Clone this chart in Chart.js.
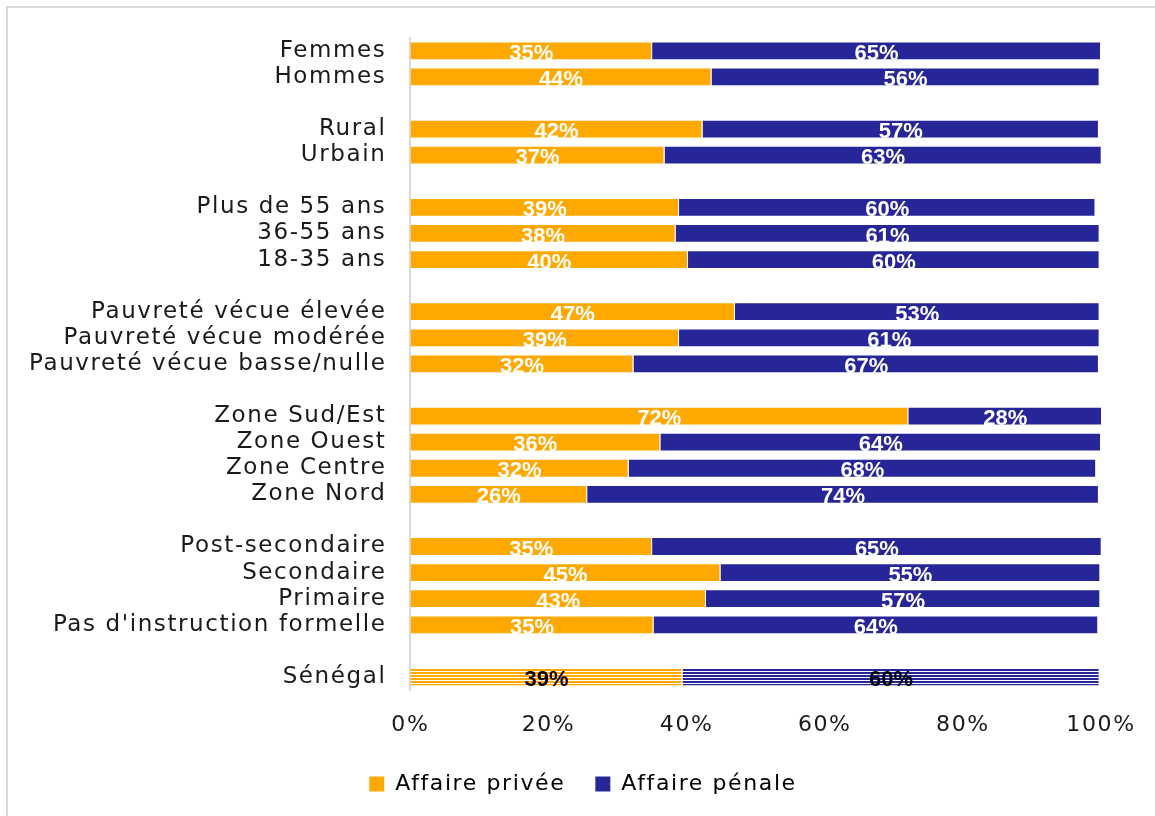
<!DOCTYPE html>
<html>
<head>
<meta charset="utf-8">
<script src="https://cdn.jsdelivr.net/npm/chart.js@4/dist/chart.umd.min.js"></script>
<style>
  body { margin: 0; background: #fff; overflow: hidden; }
  #frame { position: absolute; left: 6px; top: 6px; width: 1160px; height: 830px;
           border-left: 2px solid #d9d9d9; border-top: 2px solid #d9d9d9; }
  #wrap { position: absolute; left: 0; top: 0; width: 1155px; height: 816px; }
</style>
</head>
<body>
<div id="frame"></div>
<div id="wrap"><canvas id="myChart"></canvas></div>
<script>
// Stacked horizontal bars, blank categories used as group spacers
const categories = [
  "Femmes", "Hommes", "",
  "Rural", "Urbain", "",
  "Plus de 55 ans", "36-55 ans", "18-35 ans", "",
  "Pauvreté vécue élevée", "Pauvreté vécue modérée", "Pauvreté vécue basse/nulle", "",
  "Zone Sud/Est", "Zone Ouest", "Zone Centre", "Zone Nord", "",
  "Post-secondaire", "Secondaire", "Primaire", "Pas d'instruction formelle", "",
  "Sénégal",
];
const privee = [
  35.0, 43.6, null,
  42.3, 36.8, null,
  38.9, 38.4, 40.2, null,
  47.0, 38.9, 32.3, null,
  72.1, 36.2, 31.6, 25.6, null,
  35.0, 44.9, 42.8, 35.2, null,
  39.4,
];
const penale = [
  65.0, 56.2, null,
  57.4, 63.3, null,
  60.3, 61.4, 59.6, null,
  52.8, 60.9, 67.4, null,
  28.1, 63.8, 67.7, 74.1, null,
  65.1, 55.0, 57.1, 64.4, null,
  60.4,
];
const seriesNames = ["Affaire privée", "Affaire pénale"];
const xTicks = [0, 20, 40, 60, 80, 100];

const orange = "#FFA900";
const blue = "#262699";
const labelFont = "'DejaVu Sans', sans-serif";

// horizontal stripes for the national total
function stripes(color) {
  const c = document.createElement("canvas");
  c.width = 4; c.height = 3;
  const g = c.getContext("2d");
  g.fillStyle = "#ffffff";
  g.fillRect(0, 0, 4, 3);
  g.fillStyle = color;
  g.fillRect(0, 0, 4, 2);
  return g.createPattern(c, "repeat");
}
const last = categories.length - 1;
const fillFor = (color) => categories.map((c, i) => (i === last ? stripes(color) : color));

// letter spacing to get closer to the wide original font
const spacing = {
  id: "spacing",
  beforeLayout(chart) { chart.ctx.letterSpacing = "1.6px"; },
  afterLayout(chart) {
    // legend sits a bit right of the canvas centre in the original
    chart.legend.left += 30;
    chart.legend.right += 30;
  },
  beforeDraw(chart) { chart.ctx.letterSpacing = "1.6px"; },
};

const barLabels = {
  id: "barLabels",
  afterDatasetsDraw(chart) {
    const ctx = chart.ctx;
    ctx.save();
    ctx.letterSpacing = "0px";
    ctx.font = "bold 22px 'Liberation Sans Narrow', 'Arial Narrow', sans-serif";
    ctx.textAlign = "center";
    ctx.textBaseline = "middle";
    chart.data.datasets.forEach((ds, di) => {
      chart.getDatasetMeta(di).data.forEach((bar, i) => {
        const v = ds.data[i];
        if (v == null) return;
        const x = (bar.x + bar.base) / 2;
        ctx.fillStyle = i === last ? "#000" : "#fff";
        ctx.fillText(Math.round(v) + "%", x, bar.y + 3);
      });
    });
    ctx.restore();
  },
};

new Chart(document.getElementById("myChart"), {
  type: "bar",
  data: {
    labels: categories,
    datasets: [
      {
        label: seriesNames[0],
        data: privee,
        backgroundColor: fillFor(orange),
        borderColor: "rgba(255,255,255,0.5)",
        borderWidth: 1,
        barPercentage: 1,
        categoryPercentage: 0.72,
      },
      {
        label: seriesNames[1],
        data: penale,
        backgroundColor: fillFor(blue),
        borderColor: "rgba(255,255,255,0.5)",
        borderWidth: 1,
        barPercentage: 1,
        categoryPercentage: 0.72,
      },
    ],
  },
  options: {
    indexAxis: "y",
    responsive: true,
    maintainAspectRatio: false,
    animation: false,
    layout: { padding: { top: 36, right: 54, bottom: 11, left: 5 } },
    scales: {
      x: {
        stacked: true,
        min: 0,
        max: 100,
        afterBuildTicks: (axis) => { axis.ticks = xTicks.map((v) => ({ value: v })); },
        afterFit: (axis) => {
          axis.height = 53;
          axis.paddingRight = 0;
        },
        grid: { display: false, drawTicks: false },
        border: { display: false },
        ticks: {
          padding: 22,
          color: "#1a1a1a",
          font: { family: labelFont, size: 22 },
          callback: (v) => v + "%",
        },
      },
      y: {
        stacked: true,
        grid: { display: false, drawTicks: false },
        border: { display: true, color: "#d9d9d9", width: 2 },
        ticks: {
          padding: 24,
          autoSkip: false,
          color: "#1a1a1a",
          font: { family: labelFont, size: 23 },
        },
      },
    },
    plugins: {
      legend: {
        position: "bottom",
        labels: {
          boxWidth: 15,
          boxHeight: 15,
          padding: 30,
          color: "#1a1a1a",
          font: { family: labelFont, size: 22 },
          generateLabels: () => [
            { text: seriesNames[0], fillStyle: orange, strokeStyle: orange, lineWidth: 0, datasetIndex: 0 },
            { text: seriesNames[1], fillStyle: blue, strokeStyle: blue, lineWidth: 0, datasetIndex: 1 },
          ],
        },
      },
      tooltip: { enabled: false },
    },
  },
  plugins: [spacing, barLabels],
});
</script>
</body>
</html>
